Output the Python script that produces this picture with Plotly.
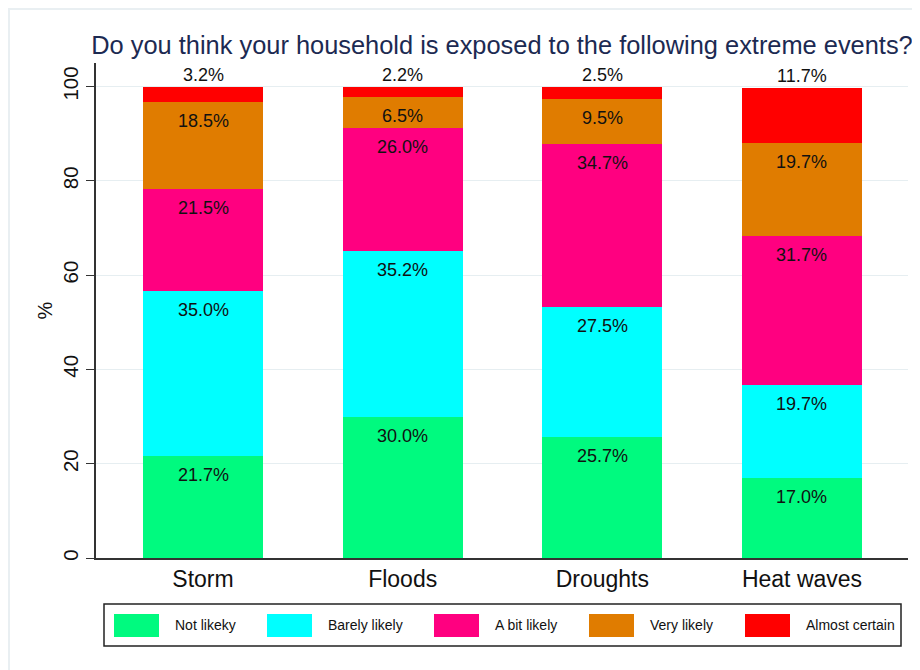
import plotly.graph_objects as go

categories = ["Storm", "Floods", "Droughts", "Heat waves"]
series_names = ["Not likeky", "Barely likely", "A bit likely", "Very likely", "Almost certain"]
not_likely = [21.7, 30.0, 25.7, 17.0]
barely_likely = [35.0, 35.2, 27.5, 19.7]
a_bit_likely = [21.5, 26.0, 34.7, 31.7]
very_likely = [18.5, 6.5, 9.5, 19.7]
almost_certain = [3.2, 2.2, 2.5, 11.7]
y_ticks = [0, 20, 40, 60, 80, 100]

series_values = [not_likely, barely_likely, a_bit_likely, very_likely, almost_certain]
colors = ["#00FA7F", "#00FFFF", "#FF0080", "#E07C00", "#FF0000"]

FONT = "Liberation Sans, Arial, sans-serif"

# figure is placed at (8, 8) in the page; coordinates below are figure pixels
W, H = 912, 662
PL, PR, PT, PB = 88, 900, 55, 550

fig = go.Figure()
for name, vals, col in zip(series_names, series_values, colors):
    fig.add_trace(go.Bar(
        x=categories, y=vals, name=name, marker=dict(color=col, line=dict(width=0)),
        width=0.6, showlegend=False, hoverinfo="x+y+name"))

# value labels
annotations = []
for ci, cat in enumerate(categories):
    cum = 0.0
    for si, vals in enumerate(series_values):
        cum += vals[ci]
        top = si == len(series_values) - 1
        annotations.append(dict(
            x=cat, y=cum, xref="x", yref="y", text=f"{vals[ci]:.1f}%",
            showarrow=False, yshift=12 if top else -19,
            font=dict(family=FONT, size=18, color="#111111")))

def px(x):
    return (x - PL) / (PR - PL)
def py(y):
    return (PB - y) / (PB - PT)

shapes = []
# outer light frame
shapes.append(dict(type="rect", xref="paper", yref="paper",
                   x0=px(1), x1=px(1200), y0=py(900), y1=py(1),
                   line=dict(color="#E9EFF2", width=2), fillcolor="rgba(0,0,0,0)", layer="below"))
# legend box
shapes.append(dict(type="rect", xref="paper", yref="paper",
                   x0=px(96), x1=px(893), y0=py(638), y1=py(596),
                   line=dict(color="#222222", width=1.5), fillcolor="white"))
swatch_x = [106, 259, 426, 581, 737]
for name, col, sx in zip(series_names, colors, swatch_x):
    shapes.append(dict(type="rect", xref="paper", yref="paper",
                       x0=px(sx), x1=px(sx + 45), y0=py(629), y1=py(606),
                       line=dict(width=0), fillcolor=col))
    annotations.append(dict(x=px(sx + 59), y=py(617.5), xref="paper", yref="paper",
                            text=name, showarrow=False, xanchor="left", yanchor="middle",
                            font=dict(family=FONT, size=14, color="#111111")))

fig.update_layout(
    barmode="stack",
    width=W, height=H,
    margin=dict(l=PL, r=W - PR, t=PT, b=H - PB),
    paper_bgcolor="white", plot_bgcolor="white",
    title=dict(text="Do you think your household is exposed to the following extreme events?",
               xref="paper", x=0.5, xanchor="center", y=1 - 37 / H, yanchor="middle",
               font=dict(family=FONT, size=25.4, color="#1C2A52")),
    font=dict(family=FONT, color="#111111"),
    xaxis=dict(range=[-0.536, 3.531], showline=True, linecolor="#333333", linewidth=1.5,
               ticks="", tickfont=dict(size=23, color="#111111"), showgrid=False),
    yaxis=dict(range=[0, 105], tickvals=y_ticks, ticktext=[str(t) for t in y_ticks],
               tickangle=-90, tickfont=dict(size=20.5, color="#111111"),
               ticks="outside", ticklen=8, tickcolor="#333333",
               showline=True, linecolor="#333333", linewidth=1.5,
               showgrid=True, gridcolor="#E6EEF1", gridwidth=1, zeroline=False,
               title=dict(text="%", font=dict(size=20, color="#111111"), standoff=1)),
    annotations=annotations,
    shapes=shapes,
)

fig.write_html("out.html")
